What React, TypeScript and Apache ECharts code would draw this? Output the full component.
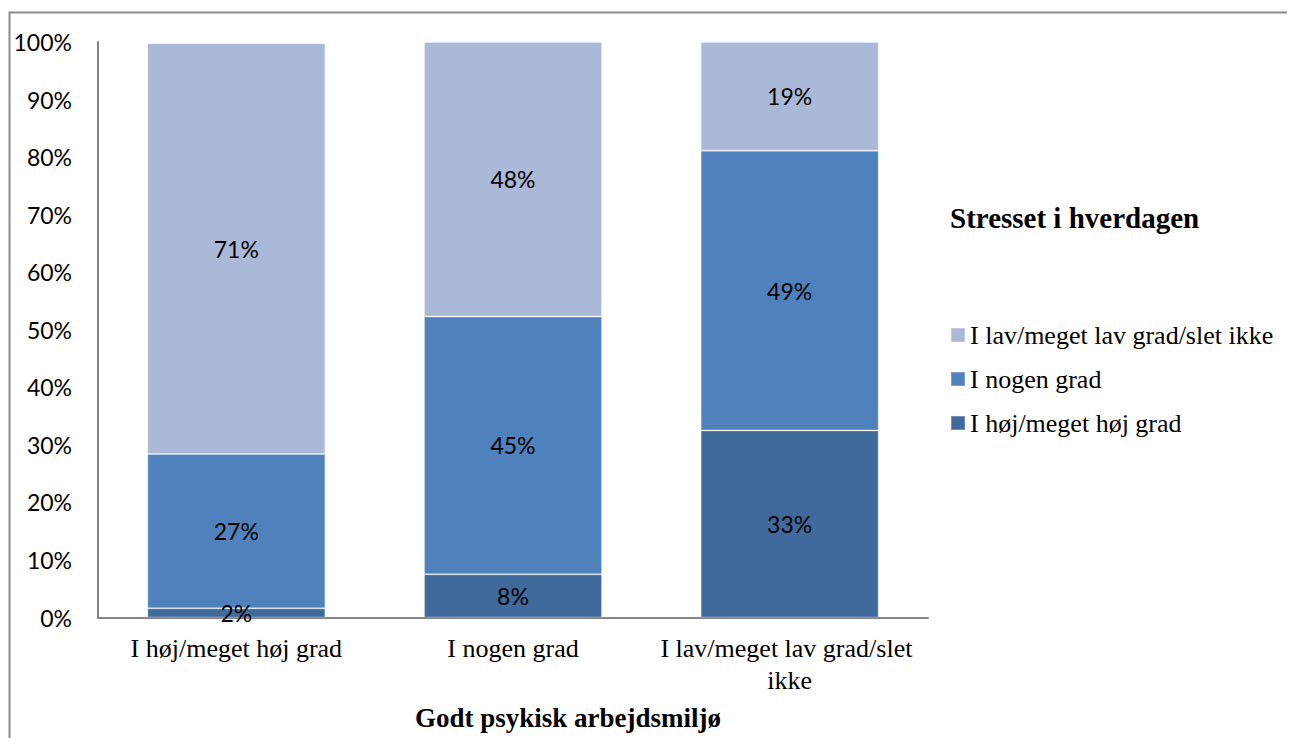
import React, { useEffect, useRef } from "react";
import * as echarts from "echarts";

const categories = ["I høj/meget høj grad", "I nogen grad", "I lav/meget lav grad/slet ikke"];
const seriesNames = ["I høj/meget høj grad", "I nogen grad", "I lav/meget lav grad/slet ikke"];
const highValues = [1.6, 7.5, 32.5];
const someValues = [26.8, 44.8, 48.6];
const lowValues = [71.4, 47.7, 18.9];
const yTicks = [0, 10, 20, 30, 40, 50, 60, 70, 80, 90, 100];
const xAxisTitle = "Godt psykisk arbejdsmiljø";
const legendTitle = "Stresset i hverdagen";

const colors = ["#406A9B", "#4F81BD", "#AAB9D7"];
const SERIF = "'Liberation Serif', 'Times New Roman', serif";
const SANS = "Lato, 'Open Sans', sans-serif";

export default function App() {
  const ref = useRef<HTMLDivElement>(null);
  useEffect(() => {
    if (!ref.current) return;
    const chart = echarts.init(ref.current, undefined, { renderer: "svg" });
    const values = [highValues, someValues, lowValues];
    chart.setOption({
      animation: false,
      backgroundColor: "#ffffff",
      graphic: [
        {
          type: "rect",
          shape: { x: 1.5, y: 4.5, width: 1500, height: 1000 },
          style: { fill: "none", stroke: "#8a8a8a", lineWidth: 2 },
          silent: true,
        },
      ],
      title: [
        {
          text: legendTitle,
          left: 942,
          top: 195,
          padding: 0,
          textStyle: { fontFamily: SERIF, fontWeight: "bold", fontSize: 29, color: "#000" },
        },
        {
          text: xAxisTitle,
          left: 407,
          top: 696,
          padding: 0,
          textStyle: { fontFamily: SERIF, fontWeight: "bold", fontSize: 27, color: "#000" },
        },
      ],
      legend: {
        orient: "vertical",
        left: 942,
        top: 312,
        padding: 0,
        itemWidth: 14,
        itemHeight: 14,
        itemGap: 14,
        icon: "rect",
        data: [seriesNames[2], seriesNames[1], seriesNames[0]],
        textStyle: { fontFamily: SERIF, fontSize: 26, color: "#000", lineHeight: 30 },
      },
      grid: { left: 90, top: 34, right: 367, bottom: 120.5, containLabel: false },
      xAxis: {
        type: "category",
        data: categories,
        axisLine: { lineStyle: { color: "#868686", width: 2 } },
        axisTick: { show: false },
        axisLabel: {
          fontFamily: SERIF,
          fontSize: 26,
          color: "#000",
          margin: 15,
          lineHeight: 32,
          width: 270,
          overflow: "break",
          interval: 0,
        },
      },
      yAxis: {
        type: "value",
        min: 0,
        max: 100,
        interval: 10,
        splitLine: { show: false },
        axisLine: { show: true, lineStyle: { color: "#868686", width: 2 } },
        axisTick: { show: false },
        axisLabel: {
          fontFamily: SANS,
          fontSize: 23,
          color: "#000",
          margin: 26,
          formatter: (v: number) => (yTicks.includes(v) ? `${v}%` : ""),
        },
      },
      series: seriesNames.map((name, i) => ({
        name,
        type: "bar",
        stack: "total",
        barWidth: 178,
        data: values[i],
        itemStyle: {
          color: colors[i],
          borderColor: "rgba(255,255,255,0.25)",
          borderWidth: 1,
        },
        label: {
          show: true,
          position: "inside",
          fontFamily: SANS,
          fontSize: 23,
          color: "#000",
          formatter: (p: any) => `${Math.round(p.value)}%`,
        },
      })),
    });
    return () => chart.dispose();
  }, []);
  return <div ref={ref} style={{ width: 1287, height: 730 }} />;
}
